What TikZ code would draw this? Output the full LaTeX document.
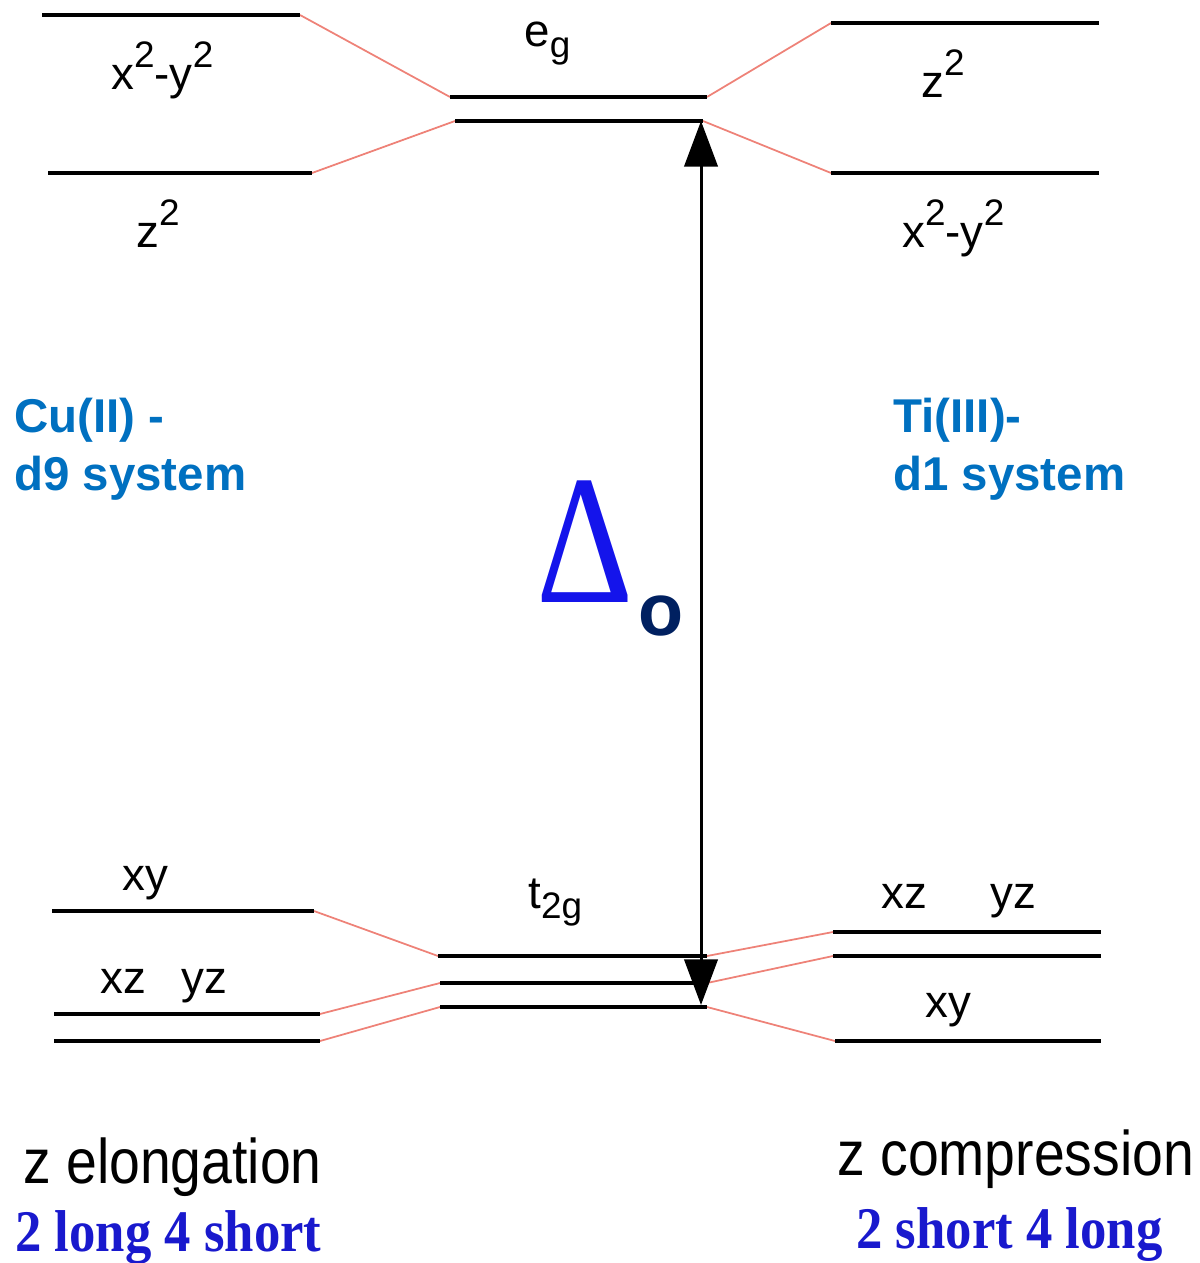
\documentclass[tikz,border=0pt]{standalone}
\usepackage{fontspec}
\setmainfont{Liberation Sans}
\newfontfamily\timesfont{Liberation Serif}
\usetikzlibrary{arrows.meta}
\definecolor{cublue}{RGB}{0,112,192}
\definecolor{deltablue}{RGB}{20,20,235}
\definecolor{subnavy}{RGB}{0,32,96}
\definecolor{ratioblue}{RGB}{25,25,205}
\definecolor{splitred}{RGB}{238,130,120}
\newcommand\sq{\raisebox{13pt}{\fontsize{21}{21}\selectfont 2}}
\newcommand\sbg[1]{\raisebox{-6pt}{\fontsize{21}{21}\selectfont #1}}

\begin{document}
\begin{tikzpicture}[x=0.02cm, y=-0.02cm,
  level/.style={line width=2.6pt},
  link/.style={splitred, line width=1pt},
  orbital/.style={anchor=base west, inner sep=0pt, font=\fontsize{26}{30}\selectfont},
  metal/.style={anchor=base west, inner sep=0pt, align=left, text=cublue, font=\fontsize{27}{32.5}\selectfont\bfseries},
  distortion/.style={anchor=base west, inner sep=0pt, font=\fontsize{31.5}{36}\selectfont},
  ratio/.style={anchor=base west, inner sep=0pt, text=ratioblue, font=\timesfont\fontsize{30}{34}\selectfont\bfseries}]
\useasboundingbox (0,0) rectangle (1199,1263);
\coordinate (lx1) at (42,15);   \coordinate (lx2) at (300,15);
\coordinate (lz1) at (48,173);  \coordinate (lz2) at (312,173);
\coordinate (ea1) at (450,97);  \coordinate (ea2) at (707,97);
\coordinate (eb1) at (455,121); \coordinate (eb2) at (703,121);
\coordinate (rz1) at (831,23);  \coordinate (rz2) at (1099,23);
\coordinate (rx1) at (831,173); \coordinate (rx2) at (1099,173);
\coordinate (lxy1) at (52,911);  \coordinate (lxy2) at (314,911);
\coordinate (lxz1) at (54,1014); \coordinate (lxz2) at (320,1014);
\coordinate (lyz1) at (54,1041); \coordinate (lyz2) at (320,1041);
\coordinate (ta1) at (438,956);  \coordinate (ta2) at (707,956);
\coordinate (tb1) at (440,983);  \coordinate (tb2) at (707,983);
\coordinate (tc1) at (440,1007); \coordinate (tc2) at (707,1007);
\coordinate (rxz1) at (833,932);  \coordinate (rxz2) at (1101,932);
\coordinate (ryz1) at (833,956);  \coordinate (ryz2) at (1101,956);
\coordinate (rxy1) at (835,1041); \coordinate (rxy2) at (1101,1041);
\coordinate (gaptop) at (701,121);
\coordinate (gapbot) at (701,1005);
\draw[link] (lx2) -- (ea1);
\draw[link] (lz2) -- (eb1);
\draw[link] (ea2) -- (rz1);
\draw[link] (eb2) -- (rx1);
\draw[link] (lxy2) -- (ta1);
\draw[link] (lxz2) -- (tb1);
\draw[link] (lyz2) -- (tc1);
\draw[link] (ta2) -- (rxz1);
\draw[link] (tb2) -- (ryz1);
\draw[link] (tc2) -- (rxy1);
\draw[level] (lx1) -- (lx2);
\draw[level] (lz1) -- (lz2);
\draw[level] (ea1) -- (ea2);
\draw[level] (eb1) -- (eb2);
\draw[level] (rz1) -- (rz2);
\draw[level] (rx1) -- (rx2);
\draw[level] (lxy1) -- (lxy2);
\draw[level] (lxz1) -- (lxz2);
\draw[level] (lyz1) -- (lyz2);
\draw[level] (ta1) -- (ta2);
\draw[level] (tb1) -- (tb2);
\draw[level] (tc1) -- (tc2);
\draw[level] (rxz1) -- (rxz2);
\draw[level] (ryz1) -- (ryz2);
\draw[level] (rxy1) -- (rxy2);
\draw[line width=1.7pt, {Triangle[length=26pt,width=19pt]}-{Triangle[length=26pt,width=19pt]}] (gapbot) -- (gaptop);
\node[orbital] (lbx) at (111,90) {x\sq-y\sq};
\node[orbital] (eg) at (524,47) {e\sbg{g}};
\node[orbital] (lbz) at (136,248) {z\sq};
\node[orbital] (rbz) at (921,98) {z\sq};
\node[orbital] (rbx) at (902,248) {x\sq-y\sq};
\node[orbital] (lbxy) at (122,890) {xy};
\node[orbital] (t2g) at (528,908) {t\sbg{2g}};
\node[orbital] (lbxz) at (100,993) {xz\hspace{20pt}yz};
\node[orbital] (rbxz) at (881,908) {xz\hspace{36pt}yz};
\node[orbital] (rbxy) at (925,1017) {xy};
\node[metal] (cu) at (14,490) {Cu(II) -\\d9 system};
\node[metal] (ti) at (893,490) {Ti(III)-\\d1 system};
\node[anchor=base west, inner sep=0pt, text=deltablue, font=\timesfont\fontsize{86}{86}\selectfont] (delta) at (536,602) {\scalebox{1}[1.22]{Δ}};
\node[anchor=base west, inner sep=0pt, text=subnavy, font=\fontsize{42}{42}\selectfont\bfseries] (osub) at (638,635) {o};
\node[distortion] (elong) at (23,1183) {\scalebox{1}[1.14]{z elongation}};
\node[distortion] (compr) at (837,1175) {\scalebox{1}[1.14]{z compression}};
\node[ratio] (lratio) at (15,1251) {\scalebox{1}[1.12]{2 long 4 short}};
\node[ratio] (rratio) at (856,1248) {\scalebox{1}[1.12]{2 short 4 long}};
\end{tikzpicture}
\end{document}
